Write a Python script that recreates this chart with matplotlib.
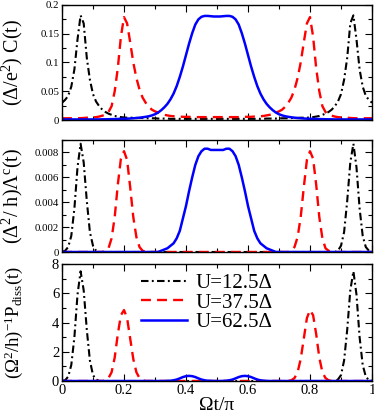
import numpy as np
import matplotlib
matplotlib.use("Agg")
import matplotlib.pyplot as plt
from matplotlib.ticker import MultipleLocator, FuncFormatter

plt.rcParams['font.family'] = ['Liberation Serif', 'DejaVu Serif']
plt.rcParams['mathtext.fontset'] = 'custom'
plt.rcParams['mathtext.rm'] = 'Liberation Serif'
plt.rcParams['mathtext.it'] = 'Liberation Serif'
plt.rcParams['mathtext.bf'] = 'Liberation Serif:bold'

# sampling positions (Omega t / pi)
t = [round(i * 0.01, 2) for i in range(101)]

labels = ["U=12.5\u0394", "U=37.5\u0394", "U=62.5\u0394"]

# ---- panel 1: (Delta/e^2) C(t)
C_U12 = [0.030, 0.035, 0.042, 0.058, 0.088, 0.140, 0.182, 0.168, 0.108, 0.070,
         0.045, 0.032, 0.024, 0.018, 0.014, 0.011, 0.009, 0.007, 0.006, 0.005,
         0.0045, 0.004, 0.004, 0.004, 0.0035, 0.0035, 0.0035, 0.003, 0.003, 0.003,
         0.003, 0.0025, 0.0025, 0.0025, 0.0025, 0.002, 0.002, 0.002, 0.002, 0.002,
         0.002, 0.002, 0.002, 0.002, 0.002, 0.002, 0.002, 0.002, 0.002, 0.002,
         0.002, 0.002, 0.002, 0.002, 0.002, 0.002, 0.002, 0.002, 0.002, 0.002,
         0.002, 0.002, 0.002, 0.002, 0.002, 0.002, 0.0025, 0.0025, 0.0025, 0.0025,
         0.003, 0.003, 0.003, 0.003, 0.0035, 0.0035, 0.0035, 0.004, 0.004, 0.004,
         0.0045, 0.005, 0.006, 0.007, 0.009, 0.011, 0.014, 0.018, 0.024, 0.032,
         0.045, 0.070, 0.108, 0.168, 0.182, 0.140, 0.088, 0.058, 0.042, 0.035,
         0.030]
C_U37 = [0.003, 0.003, 0.003, 0.003, 0.003, 0.003, 0.0032, 0.0035, 0.004, 0.0042,
         0.0045, 0.005, 0.006, 0.0075, 0.009, 0.014, 0.024, 0.050, 0.090, 0.145,
         0.179, 0.168, 0.135, 0.100, 0.073, 0.053, 0.039, 0.030, 0.023, 0.018,
         0.015, 0.013, 0.011, 0.009, 0.008, 0.007, 0.0065, 0.006, 0.006, 0.0055,
         0.0055, 0.0055, 0.005, 0.005, 0.005, 0.005, 0.005, 0.005, 0.005, 0.005,
         0.005, 0.005, 0.005, 0.005, 0.005, 0.005, 0.005, 0.005, 0.005, 0.0055,
         0.0055, 0.0055, 0.006, 0.006, 0.0065, 0.007, 0.008, 0.009, 0.011, 0.013,
         0.015, 0.018, 0.023, 0.030, 0.039, 0.053, 0.073, 0.100, 0.135, 0.168,
         0.179, 0.145, 0.090, 0.050, 0.024, 0.014, 0.009, 0.0075, 0.006, 0.005,
         0.0045, 0.0042, 0.004, 0.0035, 0.0032, 0.003, 0.003, 0.003, 0.003, 0.003,
         0.003]
C_U62 = [0.001, 0.001, 0.001, 0.001, 0.001, 0.001, 0.001, 0.001, 0.001, 0.001,
         0.001, 0.001, 0.001, 0.0012, 0.0012, 0.0013, 0.0015, 0.0016, 0.0018, 0.002,
         0.002, 0.0023, 0.0026, 0.003, 0.0035, 0.004, 0.0047, 0.0055, 0.0065, 0.008,
         0.010, 0.013, 0.017, 0.022, 0.028, 0.036, 0.046, 0.059, 0.075, 0.093,
         0.113, 0.133, 0.151, 0.166, 0.175, 0.1795, 0.181, 0.181, 0.1805, 0.18,
         0.18, 0.18, 0.1805, 0.181, 0.181, 0.1795, 0.175, 0.166, 0.151, 0.133,
         0.113, 0.093, 0.075, 0.059, 0.046, 0.036, 0.028, 0.022, 0.017, 0.013,
         0.010, 0.008, 0.0065, 0.0055, 0.0047, 0.004, 0.0035, 0.003, 0.0026, 0.0023,
         0.002, 0.002, 0.0018, 0.0016, 0.0015, 0.0013, 0.0012, 0.0012, 0.001, 0.001,
         0.001, 0.001, 0.001, 0.001, 0.001, 0.001, 0.001, 0.001, 0.001, 0.001,
         0.001]

# ---- panel 2: (Delta^2/h) Lambda^c(t)
L_U12 = [0.0, 0.0001, 0.0004, 0.0013, 0.0035, 0.0068, 0.0087, 0.0072, 0.0041, 0.0016,
         0.0005, 0.0001, 0.0, 0.0, 0.0, 0.0, 0.0, 0.0, 0.0, 0.0,
         0.0, 0.0, 0.0, 0.0, 0.0, 0.0, 0.0, 0.0, 0.0, 0.0,
         0.0, 0.0, 0.0, 0.0, 0.0, 0.0, 0.0, 0.0, 0.0, 0.0,
         0.0, 0.0, 0.0, 0.0, 0.0, 0.0, 0.0, 0.0, 0.0, 0.0,
         0.0, 0.0, 0.0, 0.0, 0.0, 0.0, 0.0, 0.0, 0.0, 0.0,
         0.0, 0.0, 0.0, 0.0, 0.0, 0.0, 0.0, 0.0, 0.0, 0.0,
         0.0, 0.0, 0.0, 0.0, 0.0, 0.0, 0.0, 0.0, 0.0, 0.0,
         0.0, 0.0, 0.0, 0.0, 0.0, 0.0, 0.0, 0.0, 0.0, 0.0001,
         0.0005, 0.0016, 0.0041, 0.0072, 0.0087, 0.0068, 0.0035, 0.0013, 0.0004, 0.0001,
         0.0]
L_U37 = [0.0, 0.0, 0.0, 0.0, 0.0, 0.0, 0.0, 0.0, 0.0, 0.0,
         0.0, 0.0, 0.0, 0.0, 0.0001, 0.0003, 0.0011, 0.0028, 0.0054, 0.0075,
         0.0081, 0.0074, 0.0052, 0.0028, 0.0012, 0.0004, 0.0001, 0.0, 0.0, 0.0,
         0.0, 0.0, 0.0, 0.0, 0.0, 0.0, 0.0, 0.0, 0.0, 0.0,
         0.0, 0.0, 0.0, 0.0, 0.0, 0.0, 0.0, 0.0, 0.0, 0.0,
         0.0, 0.0, 0.0, 0.0, 0.0, 0.0, 0.0, 0.0, 0.0, 0.0,
         0.0, 0.0, 0.0, 0.0, 0.0, 0.0, 0.0, 0.0, 0.0, 0.0,
         0.0, 0.0, 0.0, 0.0, 0.0001, 0.0004, 0.0012, 0.0028, 0.0052, 0.0074,
         0.0081, 0.0075, 0.0054, 0.0028, 0.0011, 0.0003, 0.0001, 0.0, 0.0, 0.0,
         0.0, 0.0, 0.0, 0.0, 0.0, 0.0, 0.0, 0.0, 0.0, 0.0,
         0.0]
L_U62 = [0.0, 0.0, 0.0, 0.0, 0.0, 0.0, 0.0, 0.0, 0.0, 0.0,
         0.0, 0.0, 0.0, 0.0, 0.0, 0.0, 0.0, 0.0, 0.0, 0.0,
         0.0, 0.0, 0.0, 0.0, 0.0, 0.0, 0.0, 0.0, 0.0, 0.0,
         0.0, 0.0, 0.0001, 0.0002, 0.0003, 0.0005, 0.0007, 0.0011, 0.0017, 0.0027,
         0.0037, 0.0049, 0.0060, 0.0070, 0.0077, 0.0081, 0.0083, 0.0083, 0.0082, 0.0082,
         0.0082, 0.0082, 0.0082, 0.0083, 0.0083, 0.0081, 0.0077, 0.0070, 0.0060, 0.0049,
         0.0037, 0.0027, 0.0017, 0.0011, 0.0007, 0.0005, 0.0003, 0.0002, 0.0001, 0.0,
         0.0, 0.0, 0.0, 0.0, 0.0, 0.0, 0.0, 0.0, 0.0, 0.0,
         0.0, 0.0, 0.0, 0.0, 0.0, 0.0, 0.0, 0.0, 0.0, 0.0,
         0.0, 0.0, 0.0, 0.0, 0.0, 0.0, 0.0, 0.0, 0.0, 0.0,
         0.0]

# ---- panel 3: (Omega^2/h)^-1 P_diss(t)
P_U12 = [0.0, 0.05, 0.3, 1.1, 3.0, 5.9, 7.5, 6.2, 3.5, 1.4,
         0.4, 0.1, 0.0, 0.0, 0.0, 0.0, 0.0, 0.0, 0.0, 0.0,
         0.0, 0.0, 0.0, 0.0, 0.0, 0.0, 0.0, 0.0, 0.0, 0.0,
         0.0, 0.0, 0.0, 0.0, 0.0, 0.0, 0.0, 0.0, 0.0, 0.0,
         0.0, 0.0, 0.0, 0.0, 0.0, 0.0, 0.0, 0.0, 0.0, 0.0,
         0.0, 0.0, 0.0, 0.0, 0.0, 0.0, 0.0, 0.0, 0.0, 0.0,
         0.0, 0.0, 0.0, 0.0, 0.0, 0.0, 0.0, 0.0, 0.0, 0.0,
         0.0, 0.0, 0.0, 0.0, 0.0, 0.0, 0.0, 0.0, 0.0, 0.0,
         0.0, 0.0, 0.0, 0.0, 0.0, 0.0, 0.0, 0.0, 0.0, 0.1,
         0.4, 1.4, 3.5, 6.2, 7.5, 5.9, 3.0, 1.1, 0.3, 0.05,
         0.0]
P_U37 = [0.0, 0.0, 0.0, 0.0, 0.0, 0.0, 0.0, 0.0, 0.0, 0.0,
         0.0, 0.0, 0.0, 0.0, 0.05, 0.2, 0.6, 1.6, 3.2, 4.5,
         4.85, 4.3, 2.9, 1.5, 0.6, 0.2, 0.05, 0.0, 0.0, 0.0,
         0.0, 0.0, 0.0, 0.0, 0.0, 0.0, 0.0, 0.0, 0.0, 0.0,
         0.0, 0.0, 0.0, 0.0, 0.0, 0.0, 0.0, 0.0, 0.0, 0.0,
         0.0, 0.0, 0.0, 0.0, 0.0, 0.0, 0.0, 0.0, 0.0, 0.0,
         0.0, 0.0, 0.0, 0.0, 0.0, 0.0, 0.0, 0.0, 0.0, 0.0,
         0.0, 0.0, 0.0, 0.0, 0.05, 0.2, 0.6, 1.5, 2.9, 4.3,
         4.85, 4.5, 3.2, 1.6, 0.6, 0.2, 0.05, 0.0, 0.0, 0.0,
         0.0, 0.0, 0.0, 0.0, 0.0, 0.0, 0.0, 0.0, 0.0, 0.0,
         0.0]
P_U62 = [0.0, 0.0, 0.0, 0.0, 0.0, 0.0, 0.0, 0.0, 0.0, 0.0,
         0.0, 0.0, 0.0, 0.0, 0.0, 0.0, 0.0, 0.0, 0.0, 0.0,
         0.0, 0.0, 0.0, 0.0, 0.0, 0.0, 0.0, 0.0, 0.0, 0.0,
         0.0, 0.0, 0.0, 0.0, 0.01, 0.02, 0.05, 0.1, 0.18, 0.27,
         0.33, 0.35, 0.33, 0.27, 0.18, 0.1, 0.05, 0.02, 0.01, 0.0,
         0.0, 0.0, 0.01, 0.02, 0.05, 0.1, 0.18, 0.27, 0.33, 0.35,
         0.33, 0.27, 0.18, 0.1, 0.05, 0.02, 0.01, 0.0, 0.0, 0.0,
         0.0, 0.0, 0.0, 0.0, 0.0, 0.0, 0.0, 0.0, 0.0, 0.0,
         0.0, 0.0, 0.0, 0.0, 0.0, 0.0, 0.0, 0.0, 0.0, 0.0,
         0.0, 0.0, 0.0, 0.0, 0.0, 0.0, 0.0, 0.0, 0.0, 0.0,
         0.0]

panels = [
    dict(series=[C_U12, C_U37, C_U62], ylim=(0, 0.2), major=0.05, minor=0.025,
         ylabel="(\u0394/e$^{2}$) C(t)"),
    dict(series=[L_U12, L_U37, L_U62], ylim=(0, 0.009), major=0.002, minor=0.001,
         ylabel="(\u0394$^{2}$/ h)\u039b$^{\\mathrm{c}}$(t)"),
    dict(series=[P_U12, P_U37, P_U62], ylim=(0, 8), major=2, minor=1,
         ylabel="(\u03a9$^{2}$/h)$^{-1}$P$_{\\mathrm{diss}}$(t)"),
]

W, H = 374, 417
fig = plt.figure(figsize=(W / 100, H / 100), dpi=100)
boxes = [(5, 120), (140, 252), (264, 381)]
left_px, right_px = 62, 372

styles = [
    dict(color='black', lw=1.5, linestyle=(0, (3.6, 1.6, 0.9, 1.6))),
    dict(color='#ff0000', lw=1.7, linestyle=(0, (4.2, 2.6))),
    dict(color='#0000ff', lw=1.8, linestyle='-'),
]

def fmt(v, pos):
    s = ('%.4f' % v).rstrip('0').rstrip('.')
    return s

label_sizes = [14.5, 14.5, 13.5]

for i, (p, (top, bot)) in enumerate(zip(panels, boxes)):
    ax = fig.add_axes([left_px / W, 1 - bot / H, (right_px - left_px) / W, (bot - top) / H])
    for s, st, lab in zip(p['series'], styles, labels):
        ax.plot(t, s, label=lab, **st)
    ax.set_xlim(0, 1)
    ax.set_ylim(*p['ylim'])
    ax.xaxis.set_major_locator(MultipleLocator(0.2))
    ax.xaxis.set_minor_locator(MultipleLocator(0.1))
    ax.yaxis.set_major_locator(MultipleLocator(p['major']))
    ax.yaxis.set_minor_locator(MultipleLocator(p['minor']))
    ax.yaxis.set_major_formatter(FuncFormatter(fmt))
    ax.xaxis.set_major_formatter(FuncFormatter(fmt))
    lsize = 10.5 if i == 2 else 7.8
    ax.tick_params(which='both', direction='in', top=True, right=True, width=0.8,
                   labelsize=lsize, pad=2, colors='black')
    ax.tick_params(which='major', length=5)
    ax.tick_params(which='minor', length=3)
    for sp in ax.spines.values():
        sp.set_linewidth(1.0)
    if i < 2:
        ax.tick_params(labelbottom=False)
    ax.set_ylabel(p['ylabel'], fontsize=label_sizes[i], labelpad=2)
    ax.yaxis.set_label_coords(-0.118, 0.5)
    if i == 2:
        ax.set_xlabel("\u03a9t/\u03c0", fontsize=14, labelpad=0)
        ax.legend(loc='upper left', bbox_to_anchor=(0.255, 0.92), frameon=False,
                  fontsize=15, handlelength=2.2, handletextpad=0.4,
                  labelspacing=0.0, borderpad=0, borderaxespad=0)

fig.savefig("out.png", dpi=100)
